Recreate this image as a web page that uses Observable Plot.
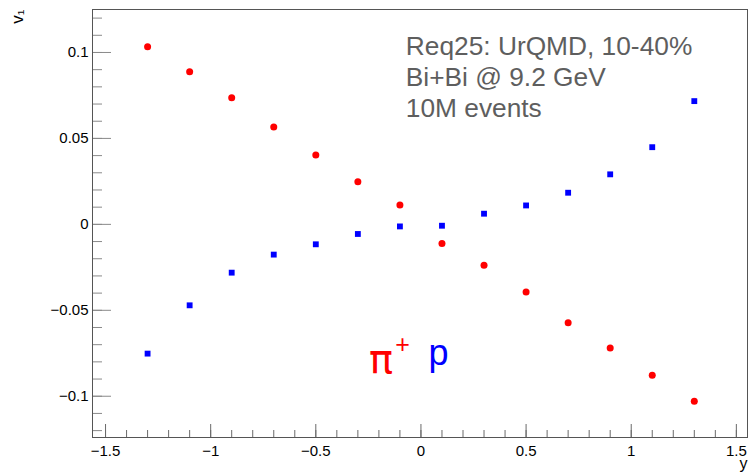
<!DOCTYPE html>
<html><head><meta charset="utf-8">
<script src="https://cdn.jsdelivr.net/npm/d3@7"></script>
<script src="https://cdn.jsdelivr.net/npm/@observablehq/plot@0.6"></script>
<style>html,body{margin:0;padding:0;background:#fff} #chart svg{display:block}</style>
</head><body><div id="chart"></div>
<script>
const rapidity = [-1.3,-1.1,-0.9,-0.7,-0.5,-0.3,-0.1,0.1,0.3,0.5,0.7,0.9,1.1,1.3];
const v1PiPlus = [0.1033,0.0888,0.0737,0.0566,0.0403,0.0248,0.0112,-0.0112,-0.0238,-0.0394,-0.0572,-0.0719,-0.0878,-0.1029];
const v1Proton = [-0.0752,-0.0471,-0.0281,-0.0176,-0.0116,-0.0056,-0.0012,-0.0008,0.0062,0.0110,0.0184,0.0291,0.0449,0.0717];
const xMajorTicks = [-1.5,-1,-0.5,0,0.5,1,1.5];
const xMinorTicks = [-1.5,-1.4,-1.3,-1.2,-1.1,-1,-0.9,-0.8,-0.7,-0.6,-0.5,-0.4,-0.3,-0.2,-0.1,0,0.1,0.2,0.3,0.4,0.5,0.6,0.7,0.8,0.9,1,1.1,1.2,1.3,1.4,1.5];
const yMajorTicks = [-0.1,-0.05,0,0.05,0.1];
const yMinorTicks = [-0.12,-0.11,-0.1,-0.09,-0.08,-0.07,-0.06,-0.05,-0.04,-0.03,-0.02,-0.01,0,0.01,0.02,0.03,0.04,0.05,0.06,0.07,0.08,0.09,0.1,0.11,0.12];
const infoLines = ["Req25: UrQMD, 10-40%", "Bi+Bi @ 9.2 GeV", "10M events"];
const xTitle = "y";
const yTitle = "v\u2081";

const piData = rapidity.map((x, i) => ({x, v: v1PiPlus[i]}));
const pData = rapidity.map((x, i) => ({x, v: v1Proton[i]}));
const fmt = d => d < 0 ? "\u2212" + Math.abs(d) : String(d);
const font = "'Liberation Sans', Arial, Helvetica, sans-serif";

const chart = Plot.plot({
  width: 749, height: 473,
  marginLeft: 92, marginRight: 2, marginTop: 9, marginBottom: 36,
  style: {fontFamily: font, background: "#fff", color: "#000"},
  x: {domain: [-1.562, 1.553], label: null},
  y: {domain: [-0.124, 0.125], label: null},
  marks: [
    Plot.axisX({ticks: xMinorTicks, tickSize: -7, tickFormat: () => "", stroke: "#6a6a6a", label: null}),
    Plot.axisX({ticks: xMajorTicks, tickSize: -13, tickFormat: () => "", stroke: "#6a6a6a", label: null}),
    Plot.axisX({ticks: xMajorTicks, tickSize: 0, tickPadding: 8, tickFormat: fmt, fontSize: 15, fill: "#000", label: null}),
    Plot.axisY({ticks: yMinorTicks, tickSize: -10, tickFormat: () => "", stroke: "#8a8a8a", label: null}),
    Plot.axisY({ticks: yMajorTicks, tickSize: -19, tickFormat: () => "", stroke: "#8a8a8a", label: null}),
    Plot.axisY({ticks: yMajorTicks, tickSize: 0, tickPadding: 4, tickFormat: fmt, fontSize: 15, fill: "#000", label: null}),
    Plot.frame({stroke: "#555"}),
    Plot.dot(piData, {x: "x", y: "v", r: 3.5, fill: "#ff0000", symbol: "circle"}),
    Plot.dot(pData, {x: "x", y: "v", r: 3.3, fill: "#0000ff", symbol: "square"}),
    Plot.text([infoLines.join("\n")], {x: -0.072, y: 0.1112, textAnchor: "start", lineAnchor: "top", fontSize: 26.3, lineHeight: 31/26.3, fill: "#5e5e5e"}),
    Plot.text(["\u03c0"], {x: -0.247, y: -0.0862, textAnchor: "start", lineAnchor: "bottom", fontSize: 40, fontFamily: "'DejaVu Sans', sans-serif", fill: "#ff0000"}),
    Plot.text(["+"], {x: -0.122, y: -0.0751, textAnchor: "start", lineAnchor: "bottom", fontSize: 25, fill: "#ff0000"}),
    Plot.text(["p"], {x: 0.036, y: -0.0820, textAnchor: "start", lineAnchor: "bottom", fontSize: 36, fill: "#0000ff"}),
    Plot.text([xTitle], {frameAnchor: "bottom-right", dy: 31, textAnchor: "end", lineAnchor: "bottom", fontSize: 16, fill: "#000"}),
    Plot.text([yTitle], {frameAnchor: "top-left", dx: -70, dy: 0, rotate: -90, textAnchor: "end", lineAnchor: "bottom", fontSize: 17, fill: "#000"})
  ]
});
document.getElementById("chart").append(chart);
</script>
</body></html>
